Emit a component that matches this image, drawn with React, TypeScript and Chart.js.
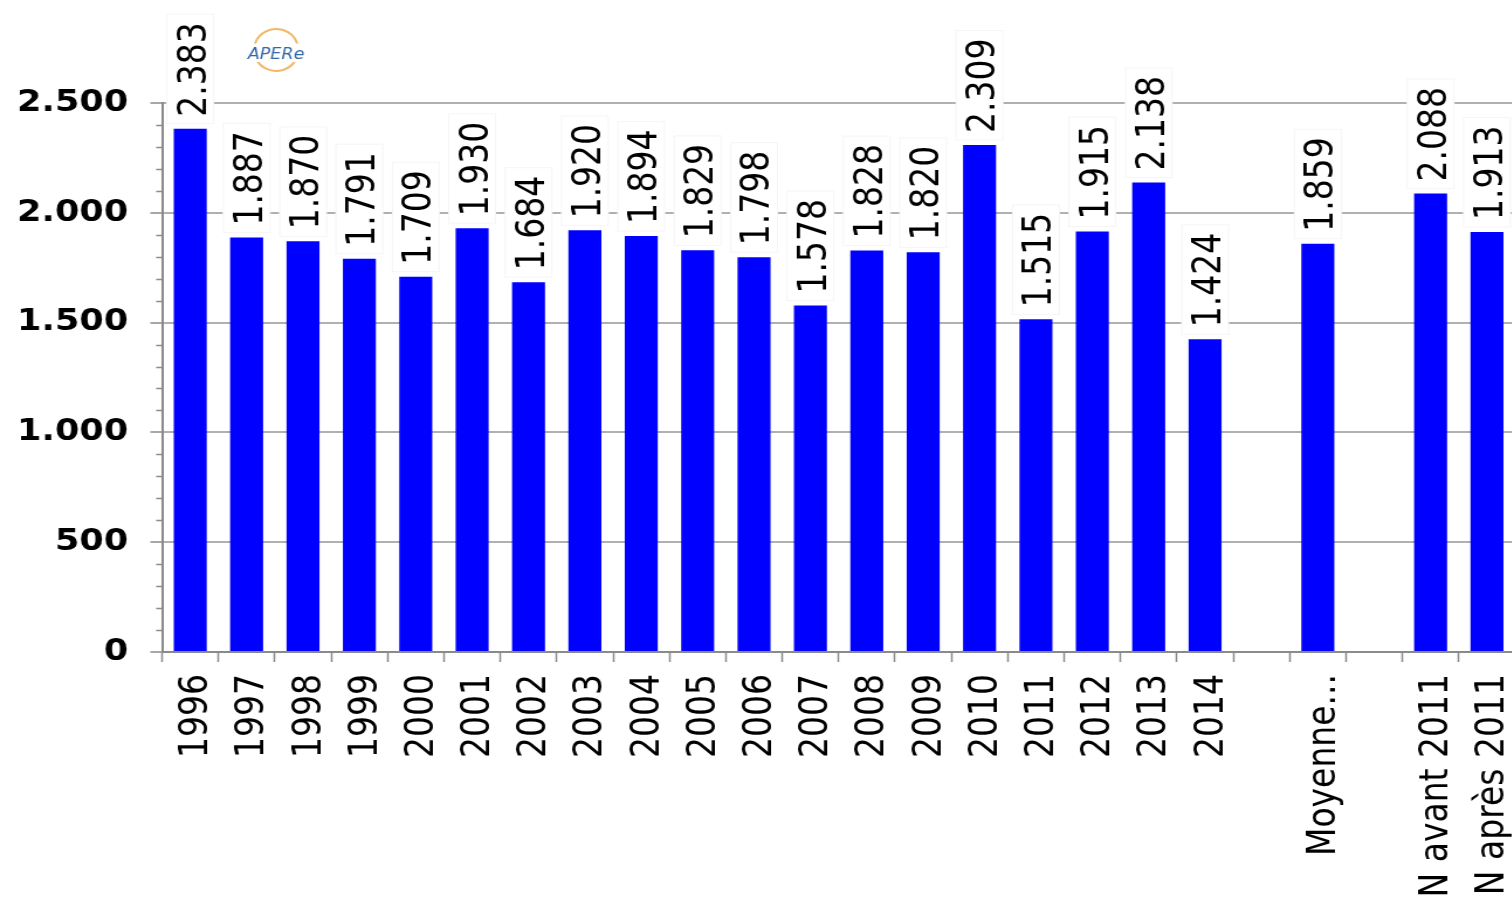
import React, { useEffect, useRef } from "react";
import { Chart, registerables } from "chart.js";

Chart.register(...registerables);

const categories = [
  "1996", "1997", "1998", "1999", "2000", "2001", "2002", "2003", "2004", "2005",
  "2006", "2007", "2008", "2009", "2010", "2011", "2012", "2013", "2014",
  "", "Moyenne...", "", "N avant 2011", "N après 2011",
];

const values: (number | null)[] = [
  2383, 1887, 1870, 1791, 1709, 1930, 1684, 1920, 1894, 1829,
  1798, 1578, 1828, 1820, 2309, 1515, 1915, 2138, 1424,
  null, 1859, null, 2088, 1913,
];

const yMin = 0;
const yMax = 2500;
const yStep = 500;
const yMinorStep = 100;

const FONT = "'DejaVu Sans', Verdana, sans-serif";
const STRETCH = 1.17;
const CANVAS_W = 1300;
const CANVAS_H = 918;

function fmt(v: number): string {
  return String(Math.round(v)).replace(/\B(?=(\d{3})+(?!\d))/g, ".");
}

const valueLabelPlugin = {
  id: "valueLabels",
  afterDatasetsDraw(chart: any) {
    const ctx = chart.ctx;
    const meta = chart.getDatasetMeta(0);
    ctx.save();
    ctx.font = `33px ${FONT}`;
    meta.data.forEach((el: any, i: number) => {
      const v = values[i];
      if (v == null) return;
      const { x, y } = el.getProps(["x", "y"], true);
      if (!isFinite(x) || !isFinite(y)) return;
      const text = fmt(v);
      const tw = ctx.measureText(text).width;
      ctx.save();
      ctx.translate(x, y - 12);
      ctx.rotate(-Math.PI / 2);
      ctx.fillStyle = "#ffffff";
      ctx.fillRect(-7, -20, tw + 15, 40);
      ctx.strokeStyle = "#f5f5f5";
      ctx.lineWidth = 1;
      ctx.strokeRect(-7, -20, tw + 15, 40);
      ctx.fillStyle = "#000000";
      ctx.textAlign = "left";
      ctx.textBaseline = "alphabetic";
      ctx.fillText(text, 0, 13);
      ctx.restore();
    });
    ctx.restore();
  },
};

const minorTickPlugin = {
  id: "minorTicks",
  afterDraw(chart: any) {
    const ctx = chart.ctx;
    const yScale = chart.scales.y;
    const left = chart.chartArea.left;
    ctx.save();
    ctx.strokeStyle = "#8a8a8a";
    ctx.lineWidth = 1.5;
    for (let v = yMin + yMinorStep; v < yMax; v += yMinorStep) {
      if (v % yStep === 0) continue;
      const py = Math.round(yScale.getPixelForValue(v)) + 0.5;
      ctx.beginPath();
      ctx.moveTo(left - 5, py);
      ctx.lineTo(left, py);
      ctx.stroke();
    }
    ctx.restore();
  },
};

const logoPlugin = {
  id: "logo",
  afterDraw(chart: any) {
    const ctx = chart.ctx;
    const cx = 236;
    const cy = 50;
    ctx.save();
    ctx.strokeStyle = "#f2b868";
    ctx.lineWidth = 2;
    ctx.beginPath();
    ctx.ellipse(cx, cy, 19, 21, 0, Math.PI * 1.1, Math.PI * 1.9);
    ctx.stroke();
    ctx.beginPath();
    ctx.ellipse(cx, cy, 19, 21, 0, Math.PI * 0.15, Math.PI * 0.85);
    ctx.stroke();
    ctx.fillStyle = "#ffffff";
    ctx.fillRect(cx - 26, cy - 4, 52, 16);
    ctx.fillStyle = "#3569a6";
    ctx.font = `italic 15px ${FONT}`;
    ctx.textAlign = "center";
    ctx.textBaseline = "middle";
    ctx.fillText("APERe", cx, cy + 5);
    ctx.restore();
  },
};

export default function App() {
  const canvasRef = useRef<HTMLCanvasElement | null>(null);

  useEffect(() => {
    const canvas = canvasRef.current;
    if (!canvas) return;
    const chart = new Chart(canvas, {
      type: "bar",
      data: {
        labels: categories,
        datasets: [
          {
            data: values,
            backgroundColor: "#0000ff",
            borderWidth: 0,
            categoryPercentage: 1,
            barPercentage: 0.585,
          },
        ],
      },
      options: {
        animation: false,
        responsive: false,
        devicePixelRatio: 1,
        layout: { padding: { top: 103, right: 5, left: 0, bottom: 0 } },
        plugins: {
          legend: { display: false },
          tooltip: { enabled: false },
        },
        scales: {
          x: {
            type: "category",
            offset: true,
            grid: {
              offset: true,
              drawOnChartArea: false,
              drawTicks: true,
              tickLength: 10,
              tickColor: "#8a8a8a",
              tickWidth: 1.5,
            },
            border: { display: true, color: "#8a8a8a", width: 2 },
            ticks: {
              autoSkip: false,
              maxRotation: 90,
              minRotation: 90,
              padding: 12,
              labelOffset: 6,
              color: "#000000",
              font: { family: FONT, size: 33 },
            },
            afterFit(scale: any) {
              scale.height = 266;
              scale.paddingLeft = 0;
              scale.paddingRight = 0;
            },
          },
          y: {
            type: "linear",
            min: yMin,
            max: yMax,
            grid: {
              color: "#b0b0b0",
              lineWidth: 2,
              tickLength: 10,
              tickColor: "#8a8a8a",
              tickWidth: 1.5,
            },
            border: { display: true, color: "#8a8a8a", width: 2 },
            ticks: {
              stepSize: yStep,
              padding: 19,
              color: "#000000",
              font: { family: FONT, size: 30, weight: "bold" },
              callback: (v: any) => fmt(Number(v)),
            },
            afterFit(scale: any) {
              scale.width = 138.5;
            },
          },
        },
      } as any,
      plugins: [valueLabelPlugin, minorTickPlugin, logoPlugin],
    });
    return () => chart.destroy();
  }, []);

  return (
    <div
      style={{
        position: "fixed",
        left: 0,
        top: 0,
        width: 1512,
        height: 918,
        overflow: "hidden",
        background: "#ffffff",
      }}
    >
      <canvas
        ref={canvasRef}
        width={CANVAS_W}
        height={CANVAS_H}
        style={{
          width: CANVAS_W,
          height: CANVAS_H,
          transform: `scaleX(${STRETCH})`,
          transformOrigin: "0 0",
          display: "block",
        }}
      />
    </div>
  );
}
